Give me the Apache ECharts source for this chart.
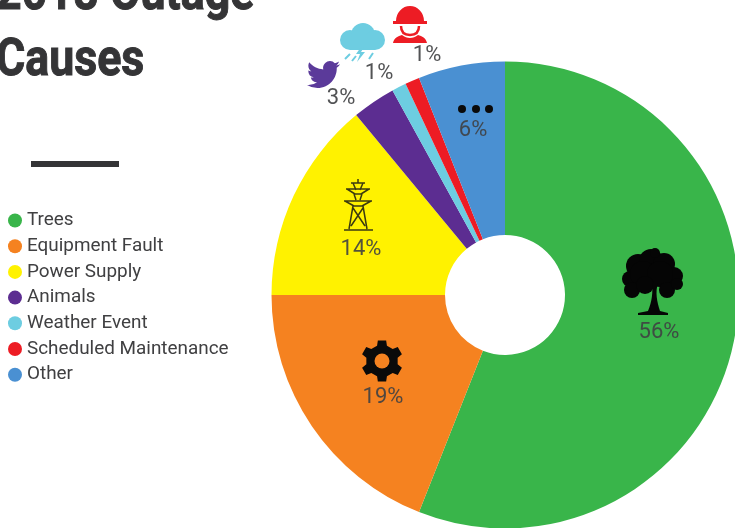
<!DOCTYPE html>
<html><head><meta charset="utf-8">
<style>html,body{margin:0;padding:0;background:#fff}#c{width:735px;height:528px;filter:blur(0.6px)}</style>
<script src="https://cdn.jsdelivr.net/npm/echarts@6/dist/echarts.min.js"></script>
</head><body><div id="c"></div>
<script>
const categories = ["Trees","Equipment Fault","Power Supply","Animals","Weather Event","Scheduled Maintenance","Other"];
const shares = [56,19,14,3,1,1,6];
const colors = ["#39b54a","#f58220","#fff200","#5c2d91","#6dcde1","#ed1c24","#4a90d2"];
const titleText = "2018 Outage\nCauses";
const labelAnchors = [[659,332],[383,397],[361,249],[341,98],[379,73],[427,55],[473,130]];
const FONT = 'Roboto';

function gearPath(cx, cy, rOut, rIn, teeth){
  let d = "";
  const step = Math.PI*2/teeth;
  for(let i=0;i<teeth;i++){
    const a = i*step - Math.PI/2;
    const pts = [[a-step*0.30,rIn],[a-step*0.19,rOut],[a+step*0.19,rOut],[a+step*0.30,rIn]];
    pts.forEach((p,k)=>{
      const x = cx+p[1]*Math.cos(p[0]), y = cy+p[1]*Math.sin(p[0]);
      d += (i===0&&k===0?"M":"L")+x.toFixed(2)+" "+y.toFixed(2)+" ";
    });
  }
  return d+"Z";
}
let shapeCount = 0;
const path = (d,style,extra)=>{
  const name = "iconShape"+(shapeCount++);
  echarts.graphic.registerShape(name, echarts.graphic.extendPath(d,{}));
  return Object.assign({type:name,style},extra||{});
};
const circle = (cx,cy,r,fill)=>({type:"circle",shape:{cx,cy,r},style:{fill}});

const treeIcon = [
  [638,266,12],[651,261,12],[664,264,11],[630,279,8],[674,276,9],[643,274,13],[660,274,13],
  [632,290,8],[645,285,9],[667,290,8],[677,284,6],[655,253,5]
].map(c=>circle(c[0],c[1],c[2],"#050505")).concat([
  path("M652 283 L658 283 C655 292 657 302 660 311 L668 313 L668 315 L638 315 L638 313 L648 311 C652 302 653 292 652 283 Z",{fill:"#050505"})
]);

const gearIcon = [
  path(gearPath(382,361,21,16,6),{fill:"#0a0a0a"}),
  circle(382,361,7.5,"#f58220")
];

const towerIcon = [
  path("M358 179 L358 183 M351 183 L365 183 M353 183 L356 190 M363 183 L360 190 M346 189 L370 189 M347 189 L355 194 M369 189 L361 194 M354 194 L362 194 M354 194 L356 200 M362 194 L360 200 M344 201 L372 201 M345 201 L354 206 M371 201 L362 206 M353 206 L363 206 M353 206 L349 229 M363 206 L367 229 M353 208 L365 226 M363 208 L351 226 M344 230 L373 230",
    {fill:"none",stroke:"#3b3a10",lineWidth:1.5})
];

const dotsIcon = [462,476,489].map(x=>circle(x,109,4,"#0a0a0a"));

const twitterIcon = [
  path("M23.953 4.57a10 10 0 0 1-2.825.775 4.958 4.958 0 0 0 2.163-2.723c-.951.555-2.005.959-3.127 1.184a4.92 4.92 0 0 0-8.384 4.482C7.69 8.095 4.067 6.13 1.64 3.162a4.822 4.822 0 0 0-.666 2.475c0 1.71.87 3.213 2.188 4.096a4.904 4.904 0 0 1-2.228-.616v.06a4.923 4.923 0 0 0 3.946 4.827 4.996 4.996 0 0 1-2.212.085 4.936 4.936 0 0 0 4.604 3.417 9.867 9.867 0 0 1-6.102 2.105c-.39 0-.779-.023-1.17-.067a13.995 13.995 0 0 0 7.557 2.209c9.053 0 13.998-7.496 13.998-13.985 0-.21 0-.42-.015-.63A9.935 9.935 0 0 0 24 4.59z",
    {fill:"#5b3a9a"},{x:307,y:58,scaleX:1.38,scaleY:1.38})
];

const cloudIcon = [
  circle(350,40,10,"#6dcde1"),circle(363,35,12,"#6dcde1"),circle(375,40,10,"#6dcde1"),
  {type:"rect",shape:{x:350,y:38,width:25,height:12},style:{fill:"#6dcde1"}},
  path("M361 47 L356 54 L360 54 L357 62 L365 52 L361 52 L364 47 Z",{fill:"#6dcde1"}),
  path("M350 54 L345 59 M373 53 L369 59 M356 56 L352 61",{fill:"none",stroke:"#6dcde1",lineWidth:2})
];

const workerIcon = [
  path("M396 21 A14 15 0 0 1 424 21 L427 21 L427 24 L393 24 L393 21 Z",{fill:"#ed1c24"}),
  path("M401 26 C401 32 404 35 410 35 C416 35 419 32 419 26",{fill:"none",stroke:"#ed1c24",lineWidth:2.5}),
  path("M393 43 C394 38 398 36 402 35 C407 39 413 39 418 35 C422 36 426 38 427 43 Z",{fill:"#ed1c24"})
];

const rule = [{type:"rect",shape:{x:31,y:161,width:88,height:6},style:{fill:"#343436"}}];

const chart = echarts.init(document.getElementById("c"),null,{renderer:"canvas"});
chart.setOption({
  animation:false,
  backgroundColor:"#ffffff",
  color:colors,
  legend:{
    orient:"vertical",left:3,top:206,
    icon:"circle",itemWidth:14,itemHeight:14,itemGap:6.7,
    selectedMode:false,
    data:categories,
    textStyle:{fontFamily:FONT,fontSize:18.9,color:"#404042"}
  },
  graphic:{elements:[
    {type:"text",x:-4,y:-37.5,scaleX:0.86,scaleY:1,style:{text:titleText,font:'bold 52px '+FONT,fill:"#343436",stroke:"#343436",lineWidth:1,lineHeight:66}},
    ...rule,...treeIcon,...gearIcon,...towerIcon,...dotsIcon,...twitterIcon,...cloudIcon,...workerIcon
  ].map(e=>Object.assign(e,{z:100}))},
  series:[{
    type:"pie",
    center:[505,295],
    radius:[60,233.5],
    startAngle:90,
    clockwise:true,
    avoidLabelOverlap:false,
    silent:true,
    data:categories.map((name,i)=>({name,value:shares[i]})),
    label:{show:true,position:"inside",formatter:p=>p.value+"%",fontFamily:FONT,fontSize:22,color:"#3f4042",opacity:0.9},
    labelLine:{show:false},
    labelLayout:p=>({x:labelAnchors[p.dataIndex][0],y:labelAnchors[p.dataIndex][1],align:"center",verticalAlign:"middle"})
  }]
});
</script></body></html>
